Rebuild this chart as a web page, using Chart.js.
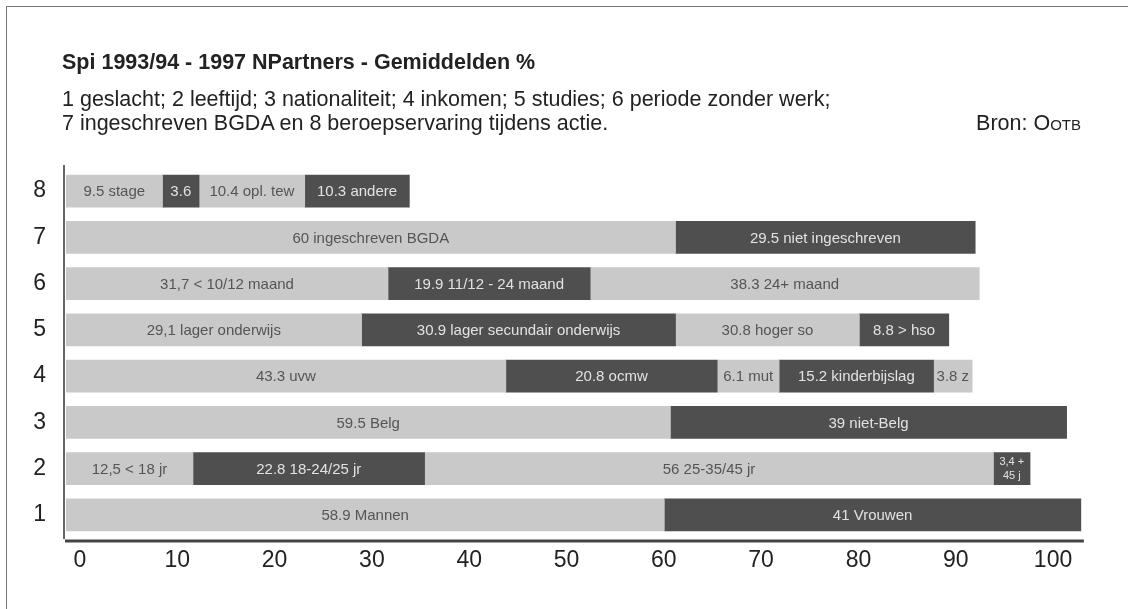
<!DOCTYPE html>
<html>
<head>
<meta charset="utf-8">
<script src="https://cdn.jsdelivr.net/npm/chart.js@4"></script>
<style>
  body { margin: 0; background: #fff; }
  #wrap { position: relative; width: 1128px; height: 609px; overflow: hidden; font-family: "Liberation Sans", Arial, sans-serif; color: #222; }
  #frame { position: absolute; left: 6px; top: 6px; width: 1200px; height: 700px; border-top: 1px solid #777; border-left: 1px solid #777; }
  #myChart { position: absolute; left: 0; top: 0; }
  .txt { position: absolute; white-space: nowrap; font-size: 21.5px; line-height: 24px; }
  #title { left: 62px; top: 50px; font-weight: bold; }
  #sub1 { left: 62px; top: 87px; }
  #sub2 { left: 62px; top: 111px; }
  #bron { right: 47px; top: 111px; }
  #bron small { font-size: 15px; }
</style>
</head>
<body>
<div id="wrap">
  <div id="frame"></div>
  <canvas id="myChart" width="1128" height="609"></canvas>
  <div class="txt" id="title">Spi 1993/94 - 1997 NPartners - Gemiddelden %</div>
  <div class="txt" id="sub1">1 geslacht; 2 leeftijd; 3 nationaliteit; 4 inkomen; 5 studies; 6 periode zonder werk;</div>
  <div class="txt" id="sub2">7 ingeschreven BGDA en 8 beroepservaring tijdens actie.</div>
  <div class="txt" id="bron">Bron: O<small>OTB</small></div>
</div>
<script>
// rows from top to bottom
const rows = ['8', '7', '6', '5', '4', '3', '2', '1'];

// segment values, left to right in each row
const seg1 = [9.5, 60, 31.7, 29.1, 43.3, 59.5, 12.5, 58.9];
const seg2 = [3.6, 29.5, 19.9, 30.9, 20.8, 39, 22.8, 41];
const seg3 = [10.4, null, 38.3, 18.1, 6.1, null, 56, null];
const seg4 = [10.3, null, null, 8.8, 15.2, null, 3.6, null];
const seg5 = [null, null, null, null, 3.8, null, null, null];

// text written in the segments
const lab1 = ['9.5 stage', '60 ingeschreven BGDA', '31,7 < 10/12 maand', '29,1 lager onderwijs', '43.3 uvw', '59.5 Belg', '12,5 < 18 jr', '58.9 Mannen'];
const lab2 = ['3.6', '29.5 niet ingeschreven', '19.9 11/12 - 24 maand', '30.9 lager secundair onderwijs', '20.8 ocmw', '39 niet-Belg', '22.8 18-24/25 jr', '41 Vrouwen'];
const lab3 = ['10.4 opl. tew', '', '38.3 24+ maand', '30.8 hoger so', '6.1 mut', '', '56 25-35/45 jr', ''];
const lab4 = ['10.3 andere', '', '', '8.8 > hso', '15.2 kinderbijslag', '', '3,4 +|45 j', ''];
const lab5 = ['', '', '', '', '3.8 z', '', '', ''];

const xTicks = [0, 10, 20, 30, 40, 50, 60, 70, 80, 90, 100];

const light = '#c9c9c9';
const dark = '#4f4f4f';
const segs = [seg1, seg2, seg3, seg4, seg5];
const labs = [lab1, lab2, lab3, lab4, lab5];

const datasets = segs.map((d, i) => ({
    data: d,
    backgroundColor: i % 2 == 0 ? light : dark,
    barThickness: 32,
    borderWidth: 0
}));

// write the labels inside the bars
const barText = {
    id: 'barText',
    afterDatasetsDraw(chart) {
        const ctx = chart.ctx;
        ctx.save();
        ctx.textAlign = 'center';
        ctx.textBaseline = 'middle';
        chart.data.datasets.forEach((ds, i) => {
            const meta = chart.getDatasetMeta(i);
            meta.data.forEach((bar, j) => {
                const t = labs[i][j];
                if (!t || ds.data[j] == null) return;
                const x = (bar.x + bar.base) / 2;
                ctx.fillStyle = i % 2 == 0 ? '#555' : '#e2e2e2';
                if (t.indexOf('|') >= 0) {
                    const p = t.split('|');
                    ctx.font = '11px "Liberation Sans", Arial, sans-serif';
                    ctx.fillText(p[0], x, bar.y - 7);
                    ctx.fillText(p[1], x, bar.y + 7);
                } else {
                    ctx.font = '15px "Liberation Sans", Arial, sans-serif';
                    ctx.fillText(t, x, bar.y + 1);
                }
            });
        });
        ctx.restore();
    }
};

// left wall and base line of the plot, a bit outside the bars
const axisLines = {
    id: 'axisLines',
    afterDatasetsDraw(chart) {
        const ctx = chart.ctx;
        const a = chart.chartArea;
        const xs = chart.scales.x;
        ctx.save();
        ctx.strokeStyle = '#666';
        ctx.lineWidth = 2;
        ctx.beginPath();
        ctx.moveTo(a.left - 2, a.top - 3);
        ctx.lineTo(a.left - 2, a.bottom + 1);
        ctx.stroke();
        ctx.strokeStyle = '#444';
        ctx.lineWidth = 3;
        ctx.beginPath();
        ctx.moveTo(a.left - 1, a.bottom + 3);
        ctx.lineTo(xs.getPixelForValue(100.2), a.bottom + 3);
        ctx.stroke();
        ctx.restore();
    }
};

const chart = new Chart(document.getElementById('myChart'), {
    type: 'bar',
    data: { labels: rows, datasets: datasets },
    plugins: [barText, axisLines],
    options: {
        responsive: false,
        animation: false,
        indexAxis: 'y',
        layout: { padding: { top: 168, right: 38, left: 0, bottom: 0 } },
        plugins: { legend: { display: false }, tooltip: { enabled: false } },
        scales: {
            x: { stacked: true, min: 0, max: 100.8, display: false },
            x2: {
                axis: 'x',
                type: 'linear',
                position: 'bottom',
                min: -1.44,
                max: 103.8,
                grid: { display: false, drawTicks: false },
                border: { display: false },
                ticks: { color: '#222', padding: 9, font: { size: 23, family: '"Liberation Sans", Arial, sans-serif' } },
                afterBuildTicks: s => { s.ticks = xTicks.map(v => ({ value: v })); },
                afterFit: s => { s.height = 71; }
            },
            y: {
                stacked: true,
                grid: { display: false, drawTicks: false },
                border: { display: false },
                ticks: { color: '#222', padding: 20, font: { size: 23, family: '"Liberation Sans", Arial, sans-serif' } },
                afterFit: s => { s.width = 66; }
            }
        }
    }
});
</script>
</body>
</html>
